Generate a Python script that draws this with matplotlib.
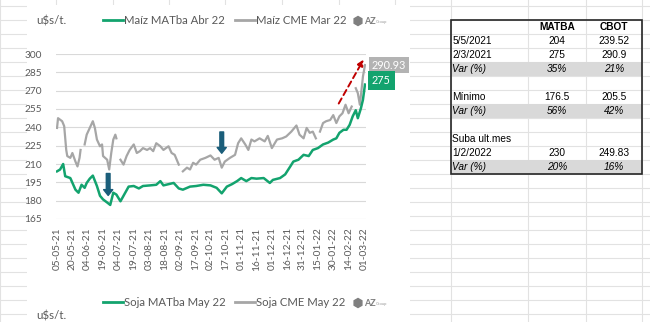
import numpy as np
import pandas as pd
import matplotlib
matplotlib.use("Agg")
import matplotlib.pyplot as plt
import matplotlib.dates as mdates
from matplotlib.patches import Rectangle, RegularPolygon

# ---- data ----
dates_matba = ["2021-05-05", "2021-05-08", "2021-05-11", "2021-05-13", "2021-05-18", "2021-05-23",
               "2021-05-26", "2021-05-29", "2021-06-01", "2021-06-03", "2021-06-06", "2021-06-09",
               "2021-06-13", "2021-06-16", "2021-06-19", "2021-06-23", "2021-06-26", "2021-06-29",
               "2021-07-02", "2021-07-06", "2021-07-09", "2021-07-14", "2021-07-19", "2021-07-24",
               "2021-07-28", "2021-08-04", "2021-08-10", "2021-08-14", "2021-08-17", "2021-08-22",
               "2021-08-27", "2021-09-01", "2021-09-05", "2021-09-12", "2021-09-18", "2021-09-25",
               "2021-10-02", "2021-10-08", "2021-10-13", "2021-10-18", "2021-10-23", "2021-10-28",
               "2021-11-01", "2021-11-06", "2021-11-11", "2021-11-16", "2021-11-23", "2021-11-29",
               "2021-12-02", "2021-12-09", "2021-12-14", "2021-12-19", "2021-12-22", "2021-12-27",
               "2022-01-01", "2022-01-06", "2022-01-10", "2022-01-15", "2022-01-20", "2022-01-25",
               "2022-01-30", "2022-02-02", "2022-02-05", "2022-02-09", "2022-02-12", "2022-02-15",
               "2022-02-18", "2022-02-21", "2022-02-23", "2022-02-26", "2022-02-28", "2022-03-02"]
maiz_matba = [204, 205.5, 210, 200, 198.5, 189,
              186.5, 193, 190.5, 194.5, 198, 200.5,
              192, 184, 181, 178.5, 176.5, 186.5,
              185, 179.5, 184, 191.5, 192, 190,
              192, 192.5, 193, 196, 192.5, 193.5,
              194.5, 190, 189, 191.5, 192, 193,
              192.5, 190.5, 186, 191.5, 193.5, 196,
              198.5, 196, 198.5, 198, 198.5, 194.5,
              197, 198.5, 201.5, 208, 212, 213.5,
              217.5, 216.5, 221.5, 223, 226, 227.5,
              230, 231, 235.5, 238, 238, 242,
              249, 254, 247.5, 255.5, 262.5, 275]

dates_cme = ["2021-05-05", "2021-05-06", "2021-05-10", "2021-05-12", "2021-05-14", "2021-05-15",
             "2021-05-18", "2021-05-20", "2021-05-23", "2021-05-25", "2021-05-27", "2021-05-28",
             "2021-05-30",
             "2021-06-01", "2021-06-03", "2021-06-06", "2021-06-09", "2021-06-11", "2021-06-13",
             "2021-06-16", "2021-06-18", "2021-06-19", "2021-06-23", "2021-06-25", "2021-06-27",
             "2021-06-29", "2021-07-01", "2021-07-02", "2021-07-04",
             "2021-07-06", "2021-07-09", "2021-07-12", "2021-07-15", "2021-07-19", "2021-07-22",
             "2021-07-25", "2021-07-28", "2021-08-01", "2021-08-04", "2021-08-07", "2021-08-10",
             "2021-08-14", "2021-08-17", "2021-08-22", "2021-08-25", "2021-08-28", "2021-09-01",
             "2021-09-03",
             "2021-09-05", "2021-09-09", "2021-09-12", "2021-09-15", "2021-09-18", "2021-09-22",
             "2021-09-27", "2021-10-02", "2021-10-06", "2021-10-10", "2021-10-13", "2021-10-16",
             "2021-10-21", "2021-10-26", "2021-10-29", "2021-11-01", "2021-11-05", "2021-11-08",
             "2021-11-11", "2021-11-14", "2021-11-19", "2021-11-24", "2021-11-27", "2021-12-01",
             "2021-12-06", "2021-12-11", "2021-12-15", "2021-12-20", "2021-12-25", "2021-12-28",
             "2022-01-01", "2022-01-04", "2022-01-07", "2022-01-10", "2022-01-13", "2022-01-15",
             "2022-01-17", "2022-01-20", "2022-01-23", "2022-01-27", "2022-01-30", "2022-02-02",
             "2022-02-05", "2022-02-08", "2022-02-11", "2022-02-14", "2022-02-17", "2022-02-19",
             "2022-02-21", "2022-02-23", "2022-02-25", "2022-02-27", "2022-02-28", "2022-03-02"]
maiz_cme = [239.5, 247.5, 245, 241, 221.5, 216.5,
            215, 219, 212, 208, 215, 221.5,
            np.nan,
            226, 234, 239.5, 245, 239.5, 230,
            224.5, 226, 216.5, 213.5, 205.5, 219,
            230, 234, 231, np.nan,
            213.5, 209.5, 216.5, 221.5, 226, 219,
            220.5, 223, 221.5, 223, 220.5, 227,
            224.5, 221.5, 224.5, 219, 217.5, 209.5,
            np.nan,
            204, 207, 205.5, 211, 209.5, 213.5,
            215, 217, 213.5, 215, 207, 212,
            215, 217.5, 227, 231, 226, 221.5,
            230, 228.5, 231, 228.5, 233, 223,
            230, 231, 232.5, 236.5, 241.5, 234,
            231, 239.5, 235.5, 236.5, 231, np.nan,
            236.5, 243.5, 245, 246, 250, 243.5,
            249, 251.5, 258.5, 251.5, 257, np.nan,
            272, 268, 258.5, 273.5, 281.5, 290.93]

y_ticks = [165, 180, 195, 210, 225, 240, 255, 270, 285, 300]
x_tick_start = "2021-05-05"
n_x_ticks = 21

table_rows = [["", "MATBA", "CBOT"],
              ["5/5/2021", "204", "239.52"],
              ["2/3/2021", "275", "290.9"],
              ["Var (%)", "35%", "21%"],
              ["", "", ""],
              ["Mínimo", "176.5", "205.5"],
              ["Var (%)", "56%", "42%"],
              ["", "", ""],
              ["Suba ult.mes", "", ""],
              ["1/2/2022", "230", "249.83"],
              ["Var (%)", "20%", "16%"]]
shaded_rows = [3, 6, 10]

GREEN = "#13a36e"
GRAY = "#a6a6a6"
TXT = "#595959"
GRID = "#e2e2e2"

fig = plt.figure(figsize=(6.5, 3.22), dpi=100)

# background "spreadsheet" in pixel coordinates
bg = fig.add_axes([0, 0, 1, 1], zorder=0)
bg.set_xlim(0, 650)
bg.set_ylim(322, 0)
bg.axis("off")
for yy in np.arange(6, 322, 14):
    bg.plot([0, 650], [yy, yy], color=GRID, lw=0.8)
for xx in [0, 56, 113, 169, 225, 282, 339, 395, 451, 528, 586, 642]:
    bg.plot([xx, xx], [0, 322], color=GRID, lw=0.8)

# chart boxes (white)
bg.add_patch(Rectangle((27, 5), 383, 317, facecolor="white", edgecolor="none", zorder=2))

bg.text(36, 21, "u$s/t.", fontsize=8.3, color=TXT, family="Lato", va="center", zorder=3)
bg.text(36, 316, "u$s/t.", fontsize=8.3, color=TXT, family="Lato", va="center", zorder=3)


def legend_row(y, lab1, lab2):
    bg.plot([103, 123], [y, y], color=GREEN, lw=2, zorder=3)
    bg.text(124, y, lab1, fontsize=8.2, color=TXT, family="Lato", va="center", zorder=3)
    bg.plot([235, 255], [y, y], color=GRAY, lw=2, zorder=3)
    bg.text(256, y, lab2, fontsize=8.2, color=TXT, family="Lato", va="center", zorder=3)
    bg.add_patch(RegularPolygon((358, y + 1), 6, radius=4.5, color="#7f7f7f", zorder=3))
    bg.text(364, y + 1, "AZ", fontsize=6.5, weight="bold", color="#7f7f7f", family="Lato",
            va="center", zorder=3)
    bg.text(376, y + 2, "Group", fontsize=3, color="#9a9a9a", family="Lato", va="center", zorder=3)


legend_row(20, "Maíz MATba Abr 22", "Maíz CME Mar 22")
legend_row(302, "Soja MATba May 22", "Soja CME May 22")

# table
top, rh = 19.5, 14
left, c1, c2, right = 451, 528, 586, 642
for i in shaded_rows:
    bg.add_patch(Rectangle((left, top + i * rh), right - left, rh, facecolor="#d9d9d9",
                           edgecolor="none", zorder=2))
bg.add_patch(Rectangle((left, top), right - left, rh * len(table_rows), facecolor="none",
                       edgecolor="#262626", lw=1.2, zorder=4))
for i, (a, b, c) in enumerate(table_rows):
    yy = top + i * rh + rh / 2 + 0.5
    style = "italic" if a.startswith("Var") else "normal"
    weight = "bold" if i == 0 else "normal"
    kw = dict(fontsize=7.3, family="Liberation Sans", va="center", style=style,
              weight=weight, color="black", zorder=4)
    bg.text(left + 1.5, yy, a, ha="left", **kw)
    bg.text((c1 + c2) / 2, yy, b, ha="center", **kw)
    bg.text((c2 + right) / 2, yy, c, ha="center", **kw)

# main plot
W, H = 650, 322
px0, px1, py0, py1 = 56, 366, 54, 219
ax = fig.add_axes([px0 / W, (H - py1) / H, (px1 - px0) / W, (py1 - py0) / H], zorder=5)
ax.patch.set_alpha(0)

dm = pd.to_datetime(dates_matba)
dc = pd.to_datetime(dates_cme)
ax.plot(dc, maiz_cme, color=GRAY, lw=1.6, zorder=3)
ax.plot(dm, maiz_matba, color=GREEN, lw=1.8, zorder=4)

start = pd.Timestamp(x_tick_start)
ticks = [start + pd.Timedelta(days=15 * k) for k in range(n_x_ticks)]
ax.set_xticks(ticks)
ax.xaxis.set_major_formatter(mdates.DateFormatter("%d-%m-%y"))
ax.set_xlim(start - pd.Timedelta(days=1), start + pd.Timedelta(days=302))
ax.set_ylim(165, 300)
ax.set_yticks(y_ticks)
ax.grid(axis="y", color="#d9d9d9", lw=0.8)
ax.set_axisbelow(True)
for s in ax.spines.values():
    s.set_visible(False)
ax.tick_params(axis="both", length=0, colors=TXT, labelsize=7.3)
ax.tick_params(axis="y", pad=10)
ax.tick_params(axis="x", pad=6)
for lab in ax.get_xticklabels():
    lab.set_rotation(90)
    lab.set_family("Lato")
for lab in ax.get_yticklabels():
    lab.set_family("Lato")

# data labels at the last point
ax.annotate(f"{maiz_cme[-1]:.2f}", (dc[-1], maiz_cme[-1]), xytext=(5, 0),
            textcoords="offset points", va="center", ha="left", fontsize=7.8, color="white",
            family="Lato", bbox=dict(boxstyle="square,pad=0.25", fc="#b3b3b3", ec="none"),
            annotation_clip=False)
ax.annotate(f"{maiz_matba[-1]:g}", (dm[-1], 278.5), xytext=(5, 0),
            textcoords="offset points", va="center", ha="left", fontsize=7.8, color="white",
            family="Lato", bbox=dict(boxstyle="square,pad=0.35", fc=GREEN, ec="none"),
            annotation_clip=False)

# arrows
ax.annotate("", xy=(pd.Timestamp("2022-03-02"), 297.5), xytext=(pd.Timestamp("2022-02-03"), 257.5),
            arrowprops=dict(arrowstyle="-|>", color="#c00000", lw=1.4, ls=(0, (3, 2)),
                            mutation_scale=9), annotation_clip=False)
for d, y0, y1 in [("2021-06-24", 204.5, 182), ("2021-10-13", 238.5, 216.5)]:
    ax.annotate("", xy=(pd.Timestamp(d), y1), xytext=(pd.Timestamp(d), y0),
                arrowprops=dict(arrowstyle="simple,head_width=1.1,head_length=0.7,tail_width=0.45",
                                color="#1b5e7a", mutation_scale=6))

fig.savefig("out.png", dpi=100)
